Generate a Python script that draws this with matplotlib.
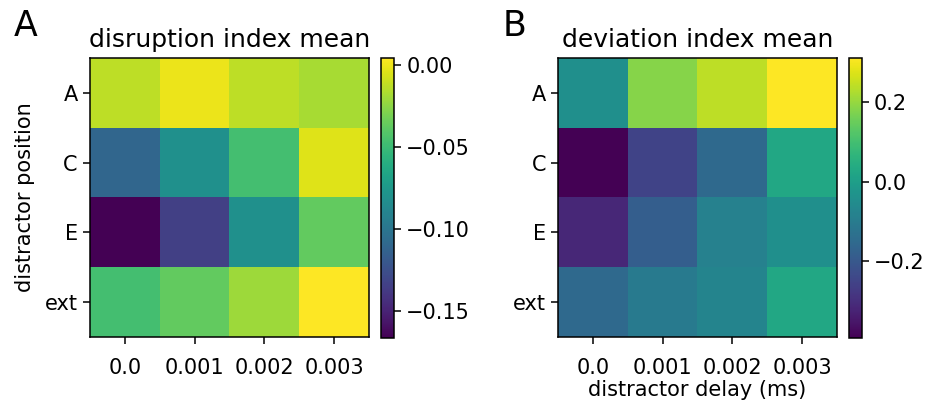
import matplotlib
matplotlib.use("Agg")
import matplotlib.pyplot as plt
import numpy as np

delays = ["0.0", "0.001", "0.002", "0.003"]
positions = ["A", "C", "E", "ext"]

# disruption index mean, rows = positions, cols = delays
disruption = [
    [-0.013, -0.001, -0.013, -0.018],
    [-0.110, -0.081, -0.047, -0.004],
    [-0.1665, -0.134, -0.081, -0.037],
    [-0.047, -0.037, -0.021, 0.0043],
]

# deviation index mean
deviation = [
    [-0.042, 0.184, 0.240, 0.311],
    [-0.394, -0.253, -0.154, 0.029],
    [-0.315, -0.182, -0.084, -0.042],
    [-0.154, -0.105, -0.077, 0.029],
]

fs = 15
plt.rcParams["font.size"] = fs
plt.rcParams["axes.linewidth"] = 1.1

fig = plt.figure(figsize=(9.38, 4.0), dpi=100)

ax1 = fig.add_axes([0.0959, 0.1575, 0.2974, 0.6975])
cax1 = fig.add_axes([0.4062, 0.155, 0.014, 0.70])
ax2 = fig.add_axes([0.5949, 0.1575, 0.2974, 0.6975])
cax2 = fig.add_axes([0.905, 0.155, 0.014, 0.70])


def heat(ax, cax, data, title, ticks):
    im = ax.imshow(np.array(data), cmap="viridis", aspect="auto")
    ax.set_xticks(range(len(delays)))
    ax.set_xticklabels(delays)
    ax.set_yticks(range(len(positions)))
    ax.set_yticklabels(positions)
    ax.set_title(title, fontsize=18, pad=8)
    ax.tick_params(length=5.2, width=1.1, labelsize=fs)
    ax.tick_params(axis="x", pad=10)
    cb = fig.colorbar(im, cax=cax)
    cb.set_ticks(ticks)
    cb.ax.tick_params(length=5.2, width=1.1, labelsize=fs)
    cb.outline.set_linewidth(1.1)
    return cb


cb1 = heat(ax1, cax1, disruption, "disruption index mean", [0.0, -0.05, -0.10, -0.15])
cb1.ax.set_yticklabels(["0.00", "\u22120.05", "\u22120.10", "\u22120.15"])
cb2 = heat(ax2, cax2, deviation, "deviation index mean", [0.2, 0.0, -0.2])
cb2.ax.set_yticklabels(["0.2", "0.0", "\u22120.2"])

ax1.set_ylabel("distractor position", fontsize=fs, labelpad=7)
ax2.set_xlabel("distractor delay (ms)", fontsize=fs, labelpad=1)

fig.text(0.015, 0.935, "A", fontsize=25, va="center")
fig.text(0.536, 0.935, "B", fontsize=25, va="center")

fig.savefig("out.png", dpi=100)
